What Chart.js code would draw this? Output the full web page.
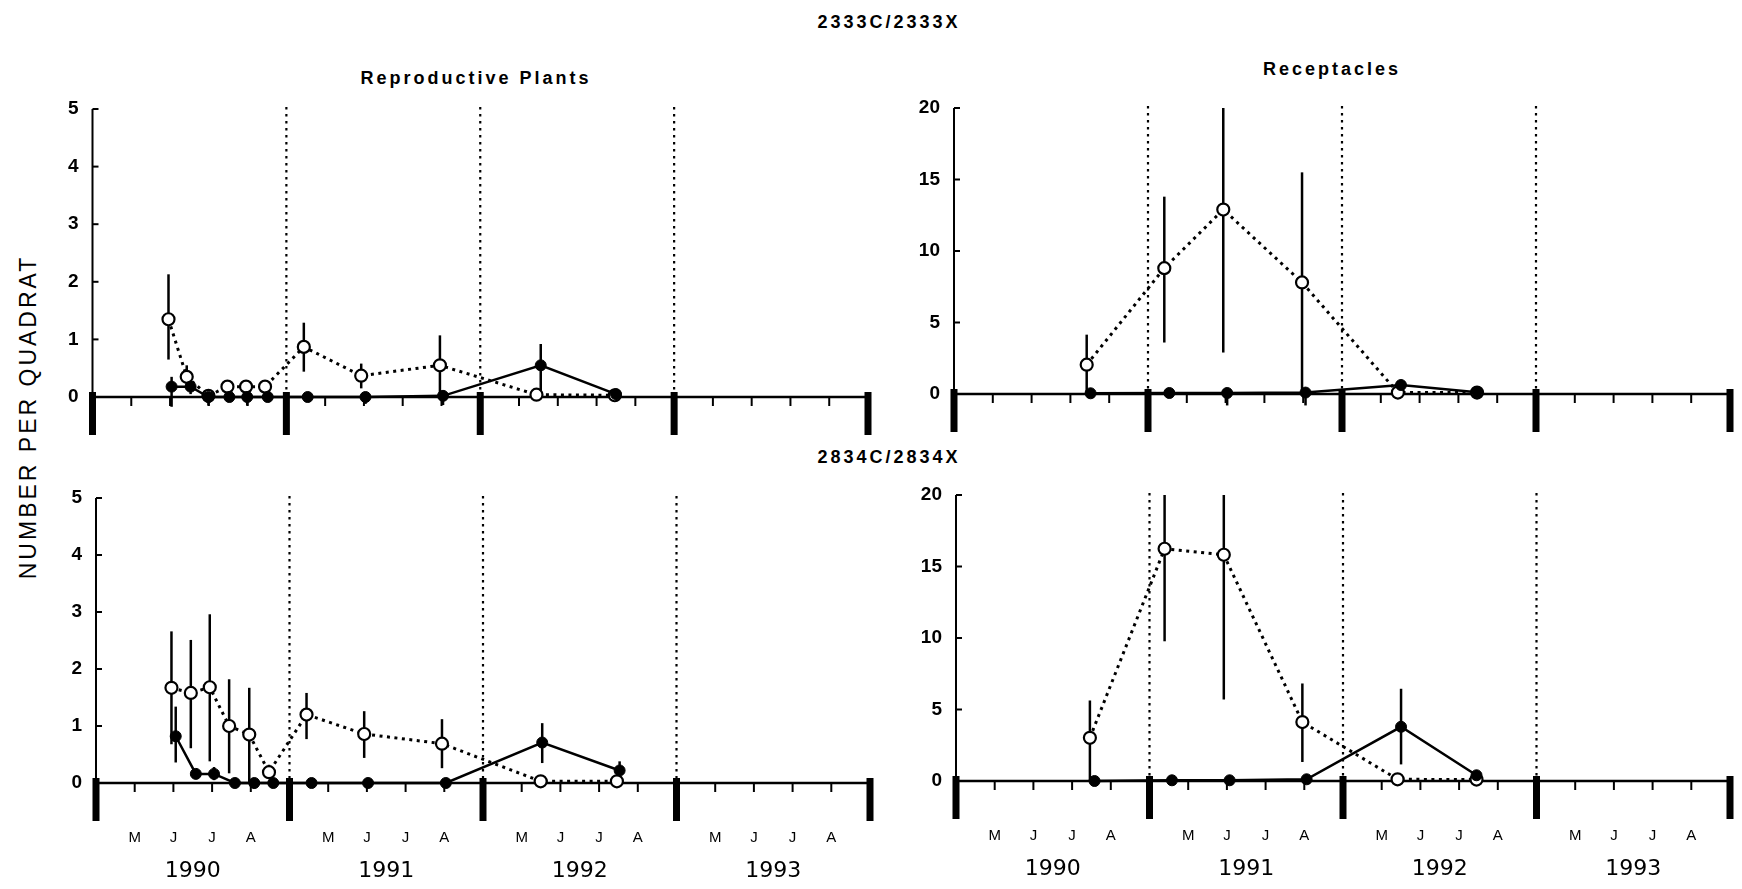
<!DOCTYPE html>
<html><head><meta charset="utf-8">
<script src="https://cdn.jsdelivr.net/npm/chart.js@4.4.1/dist/chart.umd.min.js"></script>
<style>
html,body{margin:0;padding:0;background:#fff;width:1742px;height:889px;overflow:hidden;position:relative;}
canvas.panel{position:absolute;left:0;top:0;}
.t{position:absolute;font-family:"Liberation Sans",Arial,sans-serif;font-weight:bold;color:#000;white-space:nowrap;transform:translate(-50%,-50%);font-size:18px;letter-spacing:3px;}
.ylab{position:absolute;left:28px;top:417px;font-family:"Liberation Sans",Arial,sans-serif;font-size:23px;letter-spacing:3px;color:#000;white-space:nowrap;transform:translate(-50%,-50%) rotate(-90deg);}
</style></head><body>
<div class="t" style="left:889px;top:22px">2333C/2333X</div>
<div class="t" style="left:476px;top:78px">Reproductive Plants</div>
<div class="t" style="left:1332px;top:69px">Receptacles</div>
<div class="t" style="left:889px;top:457px">2834C/2834X</div>
<div class="ylab">NUMBER PER QUADRAT</div>
<script>
// ---- tick labels ----
const monthLabels = ['M', 'J', 'J', 'A'];
const yearLabels = ['1990', '1991', '1992', '1993'];
const plantTicks = [0, 1, 2, 3, 4, 5];
const receptTicks = [0, 5, 10, 15, 20];

// ---- 2333C/2333X  Reproductive Plants ----
const plants2333OpenX  = [1.96, 2.43, 2.99, 3.48, 3.96, 4.45, 5.45, 6.93, 8.96, 11.45, 13.47];
const plants2333OpenY  = [1.35, 0.35, 0.02, 0.18, 0.18, 0.18, 0.87, 0.37, 0.55, 0.04, 0.03];
const plants2333OpenLo = [0.65, 0.17, null, 0.12, 0.12, 0.12, 0.44, 0.15, 0.03, null, null];
const plants2333OpenHi = [2.13, 0.55, null, 0.26, 0.26, 0.26, 1.29, 0.58, 1.07, null, null];
const plants2333FillX  = [2.04, 2.53, 2.99, 3.53, 3.99, 4.52, 5.55, 7.04, 9.04, 11.56, 13.5];
const plants2333FillY  = [0.18, 0.18, 0, 0, 0, 0, 0, 0, 0.02, 0.55, 0.05];
const plants2333FillLo = [-0.17, 0.05, -0.15, null, -0.15, null, null, -0.12, -0.14, 0.06, null];
const plants2333FillHi = [0.35, 0.3, 0.05, null, 0.05, null, null, 0.05, 0.1, 0.92, null];

// ---- 2333C/2333X  Receptacles ----
const recept2333OpenX  = [3.42, 5.42, 6.94, 8.97, 11.44, 13.48];
const recept2333OpenY  = [2.05, 8.8, 12.9, 7.8, 0.1, 0.1];
const recept2333OpenLo = [0, 3.6, 2.9, 0, null, null];
const recept2333OpenHi = [4.15, 13.8, 20, 15.5, null, null];
const recept2333FillX  = [3.52, 5.55, 7.04, 9.06, 11.52, 13.48];
const recept2333FillY  = [0.05, 0.07, 0.07, 0.1, 0.63, 0.12];
const recept2333FillLo = [null, null, -0.8, -0.8, null, null];
const recept2333FillHi = [null, null, 0.3, 0.3, null, null];

// ---- 2834C/2834X  Reproductive Plants ----
const plants2834OpenX  = [1.95, 2.45, 2.94, 3.44, 3.96, 4.47, 5.44, 6.93, 8.94, 11.49, 13.46];
const plants2834OpenY  = [1.67, 1.58, 1.68, 1.0, 0.85, 0.19, 1.2, 0.86, 0.69, 0.03, 0.03];
const plants2834OpenLo = [0.68, 0.61, 0.38, 0.17, 0, 0.1, 0.77, 0.44, 0.26, null, null];
const plants2834OpenHi = [2.66, 2.51, 2.96, 1.82, 1.67, 0.32, 1.58, 1.26, 1.12, null, null];
const plants2834FillX  = [2.06, 2.58, 3.05, 3.59, 4.09, 4.58, 5.57, 7.03, 9.04, 11.53, 13.53];
const plants2834FillY  = [0.82, 0.16, 0.16, 0, 0, 0, 0, 0, 0, 0.71, 0.22];
const plants2834FillLo = [0.36, null, 0.05, null, -0.1, null, null, null, -0.08, 0.35, 0.05];
const plants2834FillHi = [1.34, null, 0.28, null, 0.05, null, null, null, 0.05, 1.05, 0.38];

// ---- 2834C/2834X  Receptacles ----
const recept2834OpenX  = [3.46, 5.39, 6.92, 8.95, 11.41, 13.45];
const recept2834OpenY  = [3.02, 16.24, 15.82, 4.12, 0.12, 0.1];
const recept2834OpenLo = [0, 9.77, 5.7, 1.33, null, null];
const recept2834OpenHi = [5.63, 20, 20, 6.82, null, null];
const recept2834FillX  = [3.58, 5.58, 7.07, 9.06, 11.5, 13.45];
const recept2834FillY  = [0, 0.05, 0.05, 0.12, 3.79, 0.4];
const recept2834FillLo = [null, null, null, null, 1.16, null];
const recept2834FillHi = [null, null, null, null, 6.45, null];

// ---- layout (pixels) ----
const W = 1742, H = 889, YW = 50, H1 = 66, H2 = 36;
const panels = [
  {id:'tl', x0:92.5, x1:868, yTop:109, y0:397, ticks:plantTicks, labels:false,
   ox:plants2333OpenX, oy:plants2333OpenY, olo:plants2333OpenLo, ohi:plants2333OpenHi,
   fx:plants2333FillX, fy:plants2333FillY, flo:plants2333FillLo, fhi:plants2333FillHi},
  {id:'tr', x0:954, x1:1730, yTop:108, y0:394, ticks:receptTicks, labels:false,
   ox:recept2333OpenX, oy:recept2333OpenY, olo:recept2333OpenLo, ohi:recept2333OpenHi,
   fx:recept2333FillX, fy:recept2333FillY, flo:recept2333FillLo, fhi:recept2333FillHi},
  {id:'bl', x0:96, x1:870, yTop:498, y0:783, ticks:plantTicks, labels:true,
   ox:plants2834OpenX, oy:plants2834OpenY, olo:plants2834OpenLo, ohi:plants2834OpenHi,
   fx:plants2834FillX, fy:plants2834FillY, flo:plants2834FillLo, fhi:plants2834FillHi},
  {id:'br', x0:956, x1:1730, yTop:495, y0:781, ticks:receptTicks, labels:true,
   ox:recept2834OpenX, oy:recept2834OpenY, olo:recept2834OpenLo, ohi:recept2834OpenHi,
   fx:recept2834FillX, fy:recept2834FillY, flo:recept2834FillLo, fhi:recept2834FillHi}
];

const zip = (xs, ys) => xs.map((x, i) => ({x: x, y: ys[i]}));
const nMonths = yearLabels.length * (monthLabels.length + 1);

function decor(p) {
  return {
    id: 'decor_' + p.id,
    beforeDatasetsDraw(chart) {
      const ctx = chart.ctx, xs = chart.scales.x, ys = chart.scales.y;
      const X = v => xs.getPixelForValue(v), Y = v => ys.getPixelForValue(v);
      const ymax = p.ticks[p.ticks.length - 1];
      const top = Y(ymax), base = Y(0);
      const line = (a, b, c, d) => { ctx.beginPath(); ctx.moveTo(a, b); ctx.lineTo(c, d); ctx.stroke(); };
      ctx.save();
      ctx.strokeStyle = '#000'; ctx.fillStyle = '#000';
      // dotted year boundaries
      ctx.lineWidth = 2.2; ctx.setLineDash([2.5, 4.5]);
      for (let k = 1; k < yearLabels.length; k++) {
        const b = k * (monthLabels.length + 1);
        line(X(b), top - 2, X(b), base);
      }
      ctx.setLineDash([]);
      // y axis with inward ticks
      ctx.lineWidth = 2;
      line(X(0), top, X(0), base);
      p.ticks.forEach(v => line(X(0), Y(v), X(0) + 6, Y(v)));
      // x axis
      ctx.lineWidth = 2.5;
      line(X(0), base, X(nMonths), base);
      ctx.lineWidth = 2;
      for (let i = 0; i <= nMonths; i++) {
        if (i % (monthLabels.length + 1) === 0) {
          ctx.fillRect(X(i) - 3.5, base - 5, 7, 43);
        } else {
          line(X(i), base, X(i), base + 9);
        }
      }
      // error bars
      ctx.lineWidth = 2.5;
      const bars = (xa, lo, hi) => xa.forEach((x, i) => {
        if (lo[i] !== null && hi[i] !== null) line(X(x), Y(lo[i]), X(x), Y(hi[i]));
      });
      bars(p.ox, p.olo, p.ohi);
      bars(p.fx, p.flo, p.fhi);
      ctx.restore();
    }
  };
}

function makeChart(p) {
  const cv = document.createElement('canvas');
  cv.className = 'panel';
  cv.width = W; cv.height = H;
  cv.style.width = W + 'px'; cv.style.height = H + 'px';
  document.body.appendChild(cv);
  const ymax = p.ticks[p.ticks.length - 1];
  const noPad = a => { a.paddingLeft = 0; a.paddingRight = 0; };
  new Chart(cv, {
    type: 'scatter',
    data: {
      datasets: [
        {label: 'X', data: zip(p.fx, p.fy), showLine: true, borderColor: '#000', borderWidth: 2.5,
         pointRadius: 5.5, pointBackgroundColor: '#000', pointBorderColor: '#000', pointBorderWidth: 1,
         pointHoverRadius: 5.5, clip: false},
        {label: 'C', data: zip(p.ox, p.oy), showLine: true, borderColor: '#000', borderWidth: 3,
         borderDash: [3, 4.5], pointRadius: 6, pointBackgroundColor: '#fff', pointBorderColor: '#000',
         pointBorderWidth: 2.2, pointHoverRadius: 6, clip: false}
      ]
    },
    options: {
      responsive: false, animation: false, devicePixelRatio: 1, events: [],
      layout: {padding: {left: p.x0 - YW, right: W - p.x1, top: p.yTop, bottom: H - p.y0 - H1 - H2}},
      plugins: {legend: {display: false}, tooltip: {enabled: false}, title: {display: false}},
      scales: {
        x: {
          type: 'linear', position: 'bottom', min: 0, max: nMonths, weight: 0,
          ticks: {display: p.labels, stepSize: 1, autoSkip: false, maxRotation: 0, minRotation: 0,
                  padding: 46, color: '#000', font: {family: 'Liberation Sans', size: 15},
                  callback: v => (v % 5 === 0 ? '' : monthLabels[v % 5 - 1])},
          grid: {display: false, drawTicks: false}, border: {display: false},
          afterFit: a => { a.height = H1; noPad(a); }
        },
        x2: {
          type: 'linear', position: 'bottom', min: 0, max: nMonths, weight: 1,
          afterBuildTicks: a => { a.ticks = yearLabels.map((_, i) => ({value: 2.5 + 5 * i})); },
          ticks: {display: p.labels, autoSkip: false, maxRotation: 0, minRotation: 0, padding: 9,
                  color: '#000', font: {family: 'DejaVu Sans', size: 22},
                  callback: (v, i) => yearLabels[i]},
          grid: {display: false, drawTicks: false}, border: {display: false},
          afterFit: a => { a.height = H2; noPad(a); }
        },
        y: {
          min: 0, max: ymax,
          afterBuildTicks: a => { a.ticks = p.ticks.map(v => ({value: v})); },
          ticks: {padding: 14, color: '#000', font: {family: 'Liberation Sans', size: 19, weight: 'bold'}},
          grid: {display: false, drawTicks: false}, border: {display: false},
          afterFit: a => { a.width = YW; }
        }
      }
    },
    plugins: [decor(p)]
  });
}

panels.forEach(makeChart);
</script>
</body></html>
